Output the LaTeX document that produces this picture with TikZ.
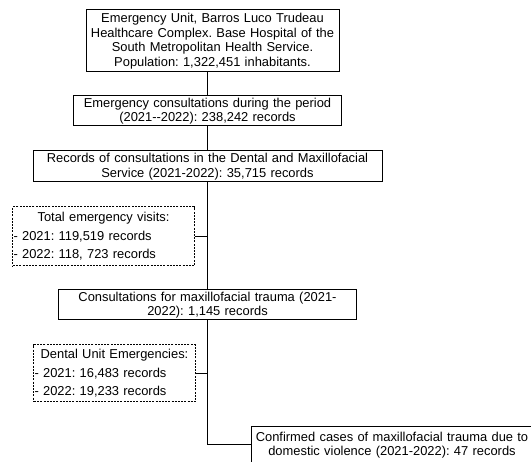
\documentclass[tikz,border=0pt]{standalone}
\usepackage{fontspec}
\setmainfont{Liberation Sans}
\usetikzlibrary{positioning}
\frenchspacing
\tikzset{every node/.style={font=\fontsize{12.9}{14.5}\selectfont},
	flow/.style={draw, line width=1pt}}

\begin{document}
\begin{tikzpicture} [x=1pt, y=1pt,
	box/.style={draw, line width=1pt, align=center, inner xsep=2pt, inner ysep=0pt},
	dashbox/.style={draw, line width=1pt, dash pattern=on 2pt off 1.2pt, align=left, inner xsep=0.6pt, inner ysep=0pt, font=\fontsize{12.9}{18.5}\selectfont}]
	\useasboundingbox (0,0) rectangle (531,-462);

	\node[box, minimum width=253pt, minimum height=62pt, text width=249pt] (hosp) at (212.5,-41)
	{
		Emergency Unit, Barros Luco Trudeau\\
		Healthcare Complex. Base Hospital of the\\
		South Metropolitan Health Service.\\
		Population: 1,322,451 inhabitants.
	};

	\node[box, minimum width=268pt, minimum height=30pt, text width=264pt, below of=hosp, node distance=70pt, xshift=-5pt] (emerg)
	{
		Emergency consultations during the period\\
		(2021{-}{-}2022): 238,242 records
	};

	\node[box, minimum width=349pt, minimum height=31pt, text width=345pt, below of=emerg, node distance=55.5pt] (dental)
	{
		Records of consultations in the Dental and Maxillofacial\\
		Service (2021-2022): 35,715 records
	};

	\node[box, minimum width=298pt, minimum height=30pt, text width=294pt, below of=dental, node distance=138.5pt] (trauma)
	{
		Consultations for maxillofacial trauma (2021-\\
		2022): 1,145 records
	};

	\node[dashbox, minimum width=181pt, minimum height=59pt, text width=180pt] (visits) at (103.5,-236.5)
	{
		\makebox[\linewidth]{Total emergency visits:}\\
		- 2021: 119,519 records\\
		- 2022: 118, 723 records
	};

	\node[dashbox, minimum width=161pt, minimum height=57pt, text width=160pt] (unit) at (114.5,-373.5)
	{
		\makebox[\linewidth]{Dental Unit Emergencies:}\\
		- 2021: 16,483 records\\
		- 2022: 19,233 records
	};

	\node[box, minimum width=282pt, minimum height=36pt, text width=278pt] (violence) at (392,-445)
	{
		Confirmed cases of maxillofacial trauma due to\\
		domestic violence (2021-2022): 47 records
	};

	% trunk
	\draw[flow] (hosp.south -| emerg.north) -- (emerg.north);
	\draw[flow] (emerg) -- (dental);
	\draw[flow] (dental) -- (trauma);
	\draw[flow] (trauma.south) |- (violence.west);

	% side boxes
	\draw[flow] (visits.east) -- (visits.east -| dental.south);
	\draw[flow] (unit.east) -- (unit.east -| trauma.south);
\end{tikzpicture}
\end{document}
